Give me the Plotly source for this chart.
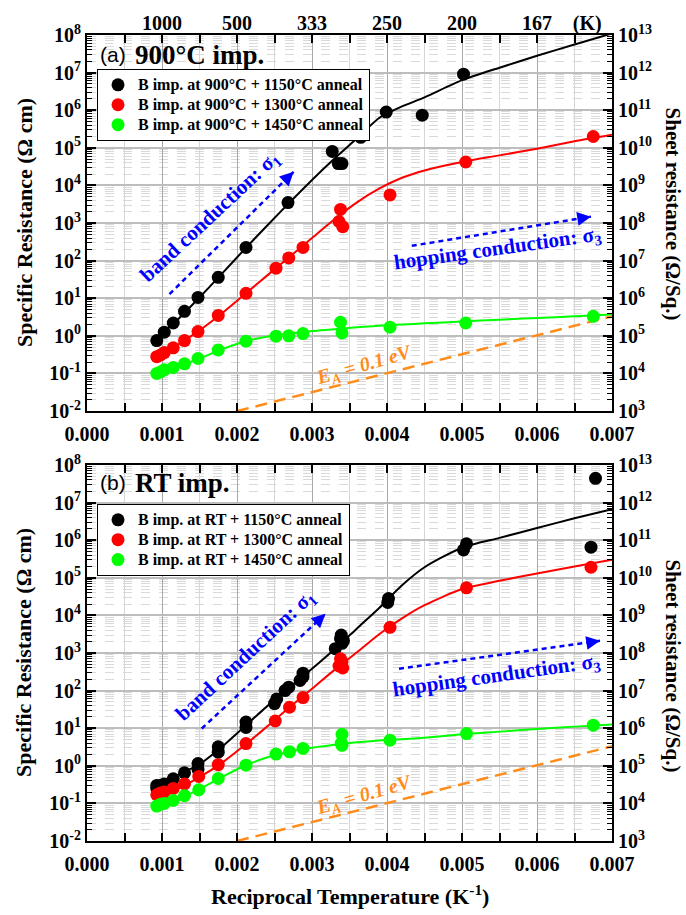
import math
import plotly.graph_objects as go

FONT = "Liberation Serif"
BLACK, RED, GREEN, BLUE, ORANGE = "#000000", "#FF0000", "#00FF00", "#0000FF", "#FF8C1A"

# ---------------- axis ticks ----------------
x_ticks = [0.000, 0.001, 0.002, 0.003, 0.004, 0.005, 0.006, 0.007]
x_ticktext = ["0.000", "0.001", "0.002", "0.003", "0.004", "0.005", "0.006", "0.007"]
top_vals = [0.001, 0.002, 0.003, 0.004, 0.005, 0.006, 0.00667]
top_text = ["1000", "500", "333", "250", "200", "167", "(K)"]
yl_vals = [1e-2, 1e-1, 1e0, 1e1, 1e2, 1e3, 1e4, 1e5, 1e6, 1e7, 1e8]
yl_text = ["10<sup>-2</sup>", "10<sup>-1</sup>", "10<sup>0</sup>", "10<sup>1</sup>", "10<sup>2</sup>",
           "10<sup>3</sup>", "10<sup>4</sup>", "10<sup>5</sup>", "10<sup>6</sup>", "10<sup>7</sup>", "10<sup>8</sup>"]
yr_vals = [1e3, 1e4, 1e5, 1e6, 1e7, 1e8, 1e9, 1e10, 1e11, 1e12, 1e13]
yr_text = ["10<sup>3</sup>", "10<sup>4</sup>", "10<sup>5</sup>", "10<sup>6</sup>", "10<sup>7</sup>", "10<sup>8</sup>",
           "10<sup>9</sup>", "10<sup>10</sup>", "10<sup>11</sup>", "10<sup>12</sup>", "10<sup>13</sup>"]

# ---------------- panel (a): 900°C implantation ----------------
a_black_x = [0.00093, 0.00103, 0.00115, 0.0013, 0.00148, 0.00175, 0.00212, 0.00268, 0.00327, 0.00335, 0.0034,
             0.00365, 0.00399, 0.00447, 0.00502]
a_black_y = [0.75, 1.25, 2.2, 4.5, 10.5, 36, 225, 3500, 8.0e4, 3.8e4, 3.8e4, 1.9e5, 8.9e5, 7.4e5, 9.1e6]
a_red_x = [0.00093, 0.00098, 0.00103, 0.00115, 0.0013, 0.00148, 0.00175, 0.00212, 0.00252, 0.00269, 0.00288,
           0.00336, 0.00338, 0.00341, 0.00404, 0.00505, 0.00675]
a_red_y = [0.28, 0.31, 0.36, 0.48, 0.75, 1.3, 3.5, 13.5, 63, 118, 225, 1100, 2300, 800, 5.6e3, 4.2e4, 2.0e5]
a_green_x = [0.00093, 0.00098, 0.00103, 0.00115, 0.0013, 0.00148, 0.00175, 0.00212, 0.00252, 0.00269, 0.00288,
             0.00338, 0.0034, 0.00404, 0.00505, 0.00675]
a_green_y = [0.1, 0.11, 0.125, 0.145, 0.18, 0.25, 0.42, 0.72, 0.98, 1.0, 1.15, 2.3, 1.2, 1.7, 2.2, 3.3]

fit_x = [0.0009, 0.0012, 0.0015, 0.0018, 0.0021, 0.0024, 0.0027, 0.003, 0.0033, 0.0036, 0.0039, 0.0042,
         0.0045, 0.005, 0.0055, 0.006, 0.0065, 0.007]
a_black_fit = [0.8, 2.6, 10.5, 45, 200, 850, 3.5e3, 1.4e4, 5.2e4, 1.8e5, 6.3e5, 1.26e6, 2.2e6, 6.3e6,
               1.35e7, 2.8e7, 5.6e7, 1.1e8]
a_red_fit = [0.25, 0.56, 1.4, 4.0, 12.6, 40, 126, 400, 1260, 3550, 8300, 1.6e4, 2.5e4, 4.2e4, 6.3e4,
             9.5e4, 1.5e5, 2.24e5]
a_green_fit = [0.1, 0.15, 0.25, 0.44, 0.71, 0.95, 1.15, 1.35, 1.5, 1.7, 1.86, 2.0, 2.15, 2.4, 2.7, 3.0,
               3.3, 3.7]

# ---------------- panel (b): RT implantation ----------------
b_black_x = [0.00093, 0.00093, 0.00098, 0.00103, 0.00115, 0.0013, 0.00148, 0.00148, 0.00175, 0.00175,
             0.00212, 0.00212, 0.0025, 0.00253, 0.00264, 0.00269, 0.00284, 0.00288, 0.00288, 0.00331,
             0.00338, 0.00342, 0.0034, 0.00339, 0.00401, 0.00402, 0.00502, 0.00506, 0.00672, 0.00678]
b_black_y = [0.25, 0.3, 0.3, 0.33, 0.45, 0.65, 0.8, 1.15, 2.3, 3.2, 10.5, 14.5, 45, 60, 100, 123, 185,
             230, 290, 1300, 2400, 2100, 1800, 3000, 2.2e4, 2.8e4, 5.5e5, 8.0e5, 6.5e5, 4.4e7]
b_red_x = [0.00093, 0.00098, 0.00103, 0.00115, 0.0013, 0.00149, 0.00175, 0.00212, 0.00251, 0.0027, 0.00288,
           0.00336, 0.00338, 0.0034, 0.00341, 0.00404, 0.00506, 0.00672]
b_red_y = [0.17, 0.19, 0.2, 0.25, 0.33, 0.52, 1.07, 3.9, 15.5, 36, 65, 450, 700, 580, 400, 4.8e3, 5.4e4, 1.9e5]
b_green_x = [0.00093, 0.00098, 0.00103, 0.00115, 0.0013, 0.00149, 0.00175, 0.00212, 0.00252, 0.0027,
             0.00288, 0.0034, 0.00339, 0.0034, 0.00404, 0.00506, 0.00675]
b_green_y = [0.085, 0.095, 0.1, 0.12, 0.16, 0.23, 0.46, 1.04, 2.05, 2.35, 2.9, 3.5, 4.0, 6.9, 4.8, 7.2, 12]

b_black_fit = [0.28, 0.56, 1.1, 3.2, 11, 38, 120, 380, 1260, 4500, 1.6e4, 6.3e4, 1.9e5, 6.3e5, 1.15e6,
               2.1e6, 3.8e6, 6.6e6]
b_red_fit = [0.17, 0.24, 0.5, 1.2, 3.5, 11, 36, 112, 355, 1050, 3200, 8300, 1.86e4, 5.0e4, 8.3e4, 1.3e5,
             2.0e5, 3.0e5]
b_green_fit = [0.085, 0.126, 0.24, 0.5, 1.0, 1.66, 2.35, 3.0, 3.6, 4.2, 4.7, 5.1, 5.6, 6.9, 8.1, 9.5, 11, 12.6]

# E_A = 0.1 eV guide line
ea_x = [0.002, 0.007]
ea_y = [0.01, 3.3]

# guide arrows (start, end)
a_band_x, a_band_y = [0.0011, 0.002755], [12.9, 2.3e4]
a_hop_x, a_hop_y = [0.00433, 0.00672], [248, 1480]
b_band_x, b_band_y = [0.00153, 0.00318], [9.8, 1.1e4]
b_hop_x, b_hop_y = [0.00416, 0.00684], [380, 2100]

labels_a = ["B imp. at 900°C + 1150°C anneal", "B imp. at 900°C + 1300°C anneal",
            "B imp. at 900°C + 1450°C anneal"]
labels_b = ["B imp. at RT + 1150°C anneal", "B imp. at RT + 1300°C anneal", "B imp. at RT + 1450°C anneal"]

# ---------------- geometry helpers ----------------
W, H = 686, 915
ML, MR, MT, MB = 87, 74, 33, 74
PW, PH = W - ML - MR, H - MT - MB


def py(p):
    return (H - MB - p) / PH


def px(p):
    return (p - ML) / PW


fig = go.Figure()


def add_panel(xa, ya, legend, fits, series, labels, band, hop):
    for fy, col in fits:
        fig.add_trace(go.Scatter(x=fit_x, y=fy, mode="lines", xaxis=xa, yaxis=ya, showlegend=False,
                                 hoverinfo="skip", line=dict(color=col, width=2, shape="spline", smoothing=0.7)))
    fig.add_trace(go.Scatter(x=ea_x, y=ea_y, mode="lines", xaxis=xa, yaxis=ya, showlegend=False,
                             hoverinfo="skip", line=dict(color=ORANGE, width=2.5, dash="12px,7px")))
    for (axx, ayy) in (band, hop):
        fig.add_trace(go.Scatter(x=axx, y=ayy, mode="lines", xaxis=xa, yaxis=ya, showlegend=False,
                                 hoverinfo="skip", line=dict(color=BLUE, width=2.5, dash="5px,4px")))
    for (sx, sy, col), lab in zip(series, labels):
        fig.add_trace(go.Scatter(x=sx, y=sy, mode="markers", xaxis=xa, yaxis=ya, legend=legend,
                                 name="<span style='font-size:16px'>" + lab + "</span>",
                                 marker=dict(color=col, size=13, line=dict(width=0))))


add_panel("x", "y", "legend",
          [(a_black_fit, BLACK), (a_red_fit, RED), (a_green_fit, GREEN)],
          [(a_black_x, a_black_y, BLACK), (a_red_x, a_red_y, RED), (a_green_x, a_green_y, GREEN)],
          labels_a, (a_band_x, a_band_y), (a_hop_x, a_hop_y))
add_panel("x3", "y3", "legend2",
          [(b_black_fit, BLACK), (b_red_fit, RED), (b_green_fit, GREEN)],
          [(b_black_x, b_black_y, BLACK), (b_red_x, b_red_y, RED), (b_green_x, b_green_y, GREEN)],
          labels_b, (b_band_x, b_band_y), (b_hop_x, b_hop_y))

# helper empty traces so overlay axes are drawn
for xa, ya in (("x2", "y"), ("x", "y2"), ("x3", "y4")):
    fig.add_trace(go.Scatter(x=[], y=[], xaxis=xa, yaxis=ya, showlegend=False, hoverinfo="skip"))

tickfont = dict(family=FONT, size=20, color="black", weight="bold")

xcommon = dict(range=[0, 0.007], tickmode="array", tickvals=x_ticks, ticktext=x_ticktext, ticks="inside",
               ticklen=8, tickwidth=2, tickcolor="black", showline=True, linewidth=2, linecolor="black",
               mirror="allticks", showgrid=True, gridcolor="#a8a8a8", gridwidth=1, zeroline=False,
               tickfont=tickfont, ticklabelstandoff=4,
               minor=dict(dtick=0.0005, tick0=0, ticks="inside", ticklen=5, tickwidth=1.5, tickcolor="black",
                          showgrid=True, gridcolor="#d6d6d6", gridwidth=1))
yminor = dict(dtick="D1", ticks="inside", ticklen=5, tickwidth=1, tickcolor="black")
ylcommon = dict(type="log", range=[-2, 8], tickmode="array", tickvals=yl_vals, ticktext=yl_text,
                ticks="inside", ticklen=9, tickwidth=2, tickcolor="black", showline=True, linewidth=2,
                linecolor="black", showgrid=True, gridcolor="#bdbdbd", gridwidth=1.5, zeroline=False,
                tickfont=tickfont,
                minor=dict(yminor, showgrid=True, gridcolor="#d9d9d9", griddash="dash", gridwidth=1))
yrcommon = dict(type="log", range=[3, 13], tickmode="array", tickvals=yr_vals, ticktext=yr_text,
                ticks="inside", ticklen=9, tickwidth=2, tickcolor="black", showline=True, linewidth=2,
                linecolor="black", showgrid=False, zeroline=False, tickfont=tickfont, side="right",
                minor=dict(yminor, showgrid=False))

dom_a = [py(410), 1.0]
dom_b = [0.0, py(464)]

legend_font = dict(family=FONT, size=13, color="black", weight="bold")
fig.update_layout(
    width=W, height=H, margin=dict(l=ML, r=MR, t=MT, b=MB), paper_bgcolor="white", plot_bgcolor="white",
    xaxis=dict(xcommon, anchor="y", domain=[0, 1]),
    xaxis2=dict(range=[0, 0.007], overlaying="x", side="top", anchor="y", tickmode="array",
                tickvals=top_vals, ticktext=top_text, ticks="", showline=False, showgrid=False,
                zeroline=False, tickfont=tickfont),
    yaxis=dict(ylcommon, domain=dom_a, anchor="x"),
    yaxis2=dict(yrcommon, overlaying="y", anchor="x"),
    xaxis3=dict(xcommon, anchor="y3", domain=[0, 1]),
    yaxis3=dict(ylcommon, domain=dom_b, anchor="x3"),
    yaxis4=dict(yrcommon, overlaying="y3", anchor="x3"),
    legend=dict(x=px(97), y=py(67), xanchor="left", yanchor="top", bgcolor="white", bordercolor="black",
                borderwidth=1, font=legend_font, tracegroupgap=0),
    legend2=dict(x=px(97), y=py(503), xanchor="left", yanchor="top", bgcolor="white", bordercolor="black",
                 borderwidth=1, font=legend_font, tracegroupgap=0),
    showlegend=True,
)

ann = []
# panel labels
for yp, tag, txt in ((53, "(a)", "900°C imp."), (482, "(b)", "RT imp.")):
    ann.append(dict(x=px(98), y=py(yp), xref="paper", yref="paper", text=tag, showarrow=False,
                    xanchor="left", yanchor="middle",
                    font=dict(family="Liberation Sans", size=21, color="black")))
    ann.append(dict(x=px(133), y=py(yp), xref="paper", yref="paper", text=txt, showarrow=False,
                    xanchor="left", yanchor="middle",
                    font=dict(family=FONT, size=27, color="black", weight="bold")))
# axis titles
for yc in (221.5, 652.5):
    ann.append(dict(x=px(24), y=py(yc), xref="paper", yref="paper", text="Specific Resistance (Ω cm)",
                    textangle=-90, showarrow=False, xanchor="center", yanchor="middle",
                    font=dict(family=FONT, size=22, color="black", weight="bold")))
for yc in (212, 665):
    ann.append(dict(x=px(673), y=py(yc), xref="paper", yref="paper", text="Sheet resistance (Ω/Sq.)",
                    textangle=90, showarrow=False, xanchor="center", yanchor="middle",
                    font=dict(family=FONT, size=21, color="black", weight="bold")))
ann.append(dict(x=px(350), y=py(895), xref="paper", yref="paper",
                text="Reciprocal Temperature (K<sup>-1</sup>)", showarrow=False, xanchor="center",
                yanchor="middle", font=dict(family=FONT, size=22, color="black", weight="bold")))

note_font = dict(family=FONT, size=21, color=BLUE, weight="bold")
ea_font = dict(family=FONT, size=20, color=ORANGE, weight="bold", style="italic")
for xr, yr, band_c, hop_c in (("x", "y", (0.001644, 3.15), (0.005473, 2.32)),
                               ("x3", "y3", (0.00211, 2.93), (0.005457, 2.39))):
    ann.append(dict(x=band_c[0], y=band_c[1], xref=xr, yref=yr, text="band conduction: σ<sub>1</sub>",
                    textangle=-43, showarrow=False, font=note_font))
    ann.append(dict(x=hop_c[0], y=hop_c[1], xref=xr, yref=yr, text="hopping conduction: σ<sub>3</sub>",
                    textangle=-8, showarrow=False, font=note_font))
    ann.append(dict(x=0.0037, y=-0.8, xref=xr, yref=yr, text="E<sub>A</sub> = 0.1 eV",
                    textangle=-16, showarrow=False, font=ea_font))

# arrow heads
for xr, yr, (axx, ayy), (ddx, ddy) in (("x", "y", (a_band_x, a_band_y), (124, -122.7)),
                                       ("x", "y", (a_hop_x, a_hop_y), (179, -29.3)),
                                       ("x3", "y3", (b_band_x, b_band_y), (123.3, -115)),
                                       ("x3", "y3", (b_hop_x, b_hop_y), (180, -28.3))):
    n = math.hypot(ddx, ddy)
    ann.append(dict(x=axx[1], y=math.log10(ayy[1]), xref=xr, yref=yr, text="", showarrow=True,
                    arrowhead=2, arrowsize=1.1, arrowwidth=2.5, arrowcolor=BLUE, standoff=0,
                    ax=-12 * ddx / n, ay=-12 * ddy / n))

fig.update_layout(annotations=ann)
fig.write_html("out.html")
